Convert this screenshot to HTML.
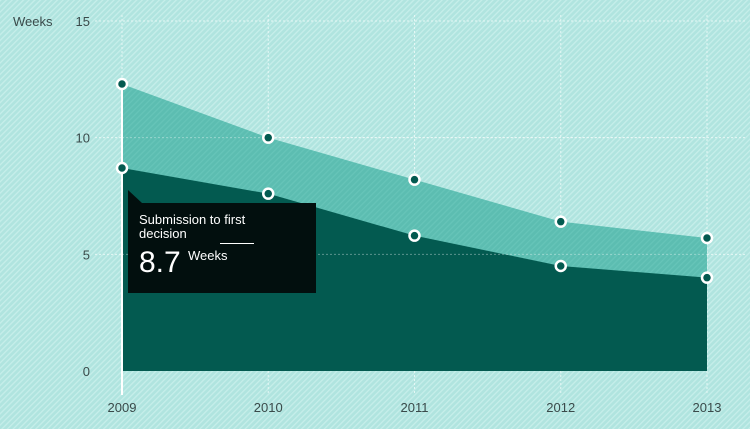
<!DOCTYPE html>
<html><head><meta charset="utf-8"><style>
html,body{margin:0;padding:0;width:750px;height:429px;overflow:hidden;background:#b3e6e1;}
text{font-family:"Liberation Sans",sans-serif;}
</style></head><body>
<svg id="chart" width="750" height="429" xmlns="http://www.w3.org/2000/svg">
<defs>
<pattern id="hatch" width="4" height="4" patternUnits="userSpaceOnUse" patternTransform="rotate(45)">
<rect width="4" height="4" fill="#b0e4df"/><rect width="1.3" height="4" fill="#c6eeea"/></pattern>
<pattern id="hatch2" width="4" height="4" patternUnits="userSpaceOnUse" patternTransform="rotate(45)">
<rect width="4" height="4" fill="#5cbdb1"/><rect width="1.3" height="4" fill="#66c4b8"/></pattern>
</defs>
<rect width="750" height="429" fill="url(#hatch)"/>
<g id="grid"></g><g id="areas"></g><g id="marks"></g><g id="labels"></g>
</svg>
<script>
const years=["2009","2010","2011","2012","2013"];
const total=[12.3,10.0,8.2,6.4,5.7];
const firstDecision=[8.7,7.6,5.8,4.5,4.0];
const yTicks=[0,5,10,15];
const NS="http://www.w3.org/2000/svg";
const x=i=>122+i*146.25;
const y=v=>371-v*(350/15);
function mk(tag,attrs,parent){const e=document.createElementNS(NS,tag);for(const k in attrs)e.setAttribute(k,attrs[k]);parent.appendChild(e);return e;}
const grid=document.getElementById('grid'),areas=document.getElementById('areas'),marks=document.getElementById('marks'),labels=document.getElementById('labels');
yTicks.forEach(t=>{
 if(t>0){const l=mk('line',{x1:95,x2:745,y1:y(t),y2:y(t),stroke:'#e6f7f5','stroke-width':1,'stroke-dasharray':'2,2'},grid);
 }
 const tx=mk('text',{x:90,y:y(t)+5,'text-anchor':'end','font-size':13,fill:'#3a4a4a'},labels);tx.textContent=t;
 
});
const wl=mk('text',{x:13,y:y(15)+5,'font-size':13,fill:'#3a4a4a'},labels);wl.textContent='Weeks';

years.forEach((yr,i)=>{
 const l=mk('line',{x1:x(i),x2:x(i),y1:15,y2:395,stroke:'#e6f7f5','stroke-width':1,'stroke-dasharray':'2,2'},grid);
 
 const t=mk('text',{x:x(i),y:412,'text-anchor':'middle','font-size':13,fill:'#3a4a4a'},labels);t.textContent=yr;
 
});
function areaPath(vals){let d='M'+x(0)+','+y(0);vals.forEach((v,i)=>d+=' L'+x(i)+','+y(v));d+=' L'+x(vals.length-1)+','+y(0)+'Z';return d;}
const a1=mk('path',{d:areaPath(total),fill:'url(#hatch2)'},areas);

const a2=mk('path',{d:areaPath(firstDecision),fill:'#035a50'},areas);

const gl=[0,5,10];gl.forEach(t=>{if(t>0){const l=mk('line',{x1:122,x2:707,y1:y(t),y2:y(t),stroke:'#ffffff','stroke-opacity':0.35,'stroke-dasharray':'2,2'},areas);
}});
const hl=mk('line',{x1:x(0),x2:x(0),y1:y(total[0]),y2:395,stroke:'#ffffff','stroke-width':2},marks);

[total,firstDecision].forEach((s,si)=>s.forEach((v,i)=>{
 const c=mk('circle',{cx:x(i),cy:y(v),r:5,fill:'#035a50',stroke:'#ffffff','stroke-width':2.5},marks);
 
}));
const tip=mk('g',{},marks);

mk('path',{d:'M128,190 L142,203 L316,203 L316,293 L128,293 Z',fill:'#020f0e'},tip);
const t1=mk('text',{x:139,y:224,'font-size':13,fill:'#fff'},tip);t1.textContent='Submission to first';
const t2=mk('text',{x:139,y:238,'font-size':13,fill:'#fff'},tip);t2.textContent='decision';
mk('line',{x1:220,x2:254,y1:243.5,y2:243.5,stroke:'#fff','stroke-width':1},tip);
const t3=mk('text',{x:139,y:272,'font-size':30,fill:'#fff'},tip);t3.textContent=firstDecision[0];
const t4=mk('text',{x:188,y:260,'font-size':13,fill:'#fff'},tip);t4.textContent='Weeks';
</script>
</body></html>
